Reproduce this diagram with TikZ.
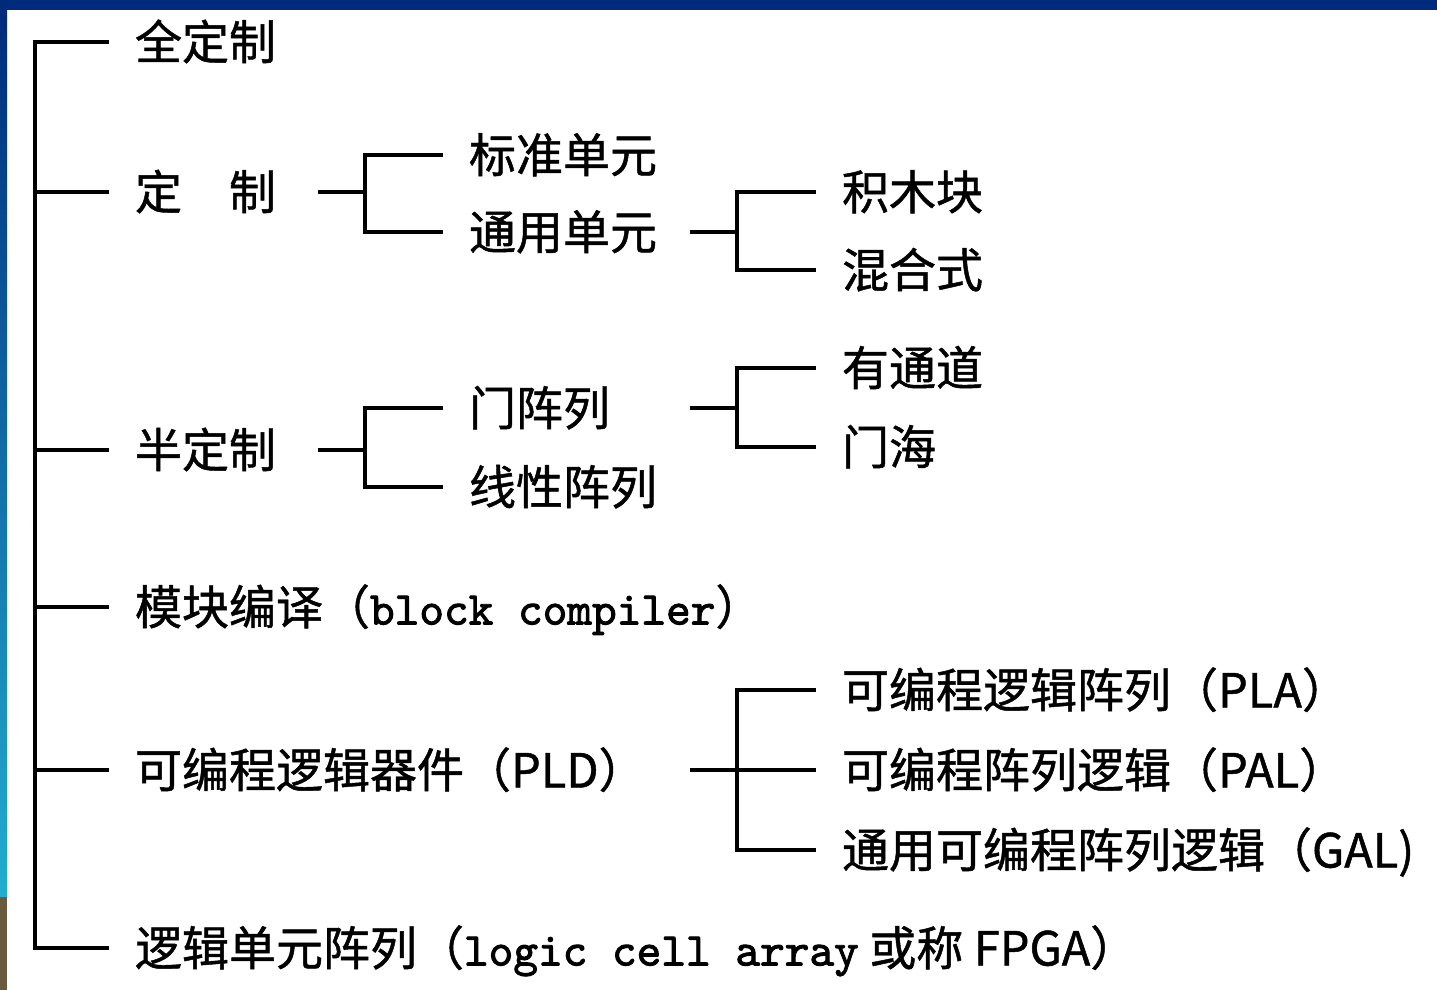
\documentclass[tikz,border=0pt]{standalone}
\usepackage{fontspec}
\setmainfont{Noto Sans CJK SC}[RawFeature={embolden=1}]
\newfontfamily\codefont{lmmono10-regular.otf}[AutoFakeBold=2]
\usetikzlibrary{calc, positioning}

\definecolor{framenavy}{HTML}{002A7C}
\definecolor{frameblue}{HTML}{1560B0}
\definecolor{frameteal}{HTML}{22AECF}
\definecolor{framebrown}{HTML}{6A5A3E}

\tikzset{
  term/.style={anchor=west, inner sep=0pt, outer xsep=26pt,
    text height=39pt, text depth=4pt,
    font=\fontsize{47}{52}\selectfont},
  bracket/.style={line width=4pt, black}
}

\begin{document}
\begin{tikzpicture}[x=1pt, y=-1pt]
\def\trunkx{35}
\def\stubB{318}
\def\forkB{365}
\def\stubC{690}
\def\forkC{737}

\useasboundingbox (0,0) rectangle (1437,990);
\fill[white] (0,0) rectangle (1437,990);

% slide frame
\fill[framenavy] (0,0) rectangle (1437,10);
\shade[top color=framenavy, middle color=frameblue, bottom color=frameteal] (0,10) rectangle (7,897);
\fill[framebrown] (0,897) rectangle (7,990);

% first level
\node[term] (full)   at (109,42)  {全定制};
\node[term] (custom) at (109,192) {定　制};
\node[term] (semi)   at (109,450) {半定制};
\node[term] (block)  at (109,607) {模块编译（{\codefont\bfseries block compiler}）};
\node[term] (pld)    at (109,770) {可编程逻辑器件（PLD）};
\node[term] (lca)    at (109,948) {逻辑单元阵列（{\codefont\bfseries logic cell array} 或称 FPGA）};

% second level
\node[term] (stdcell) at (443,155) {标准单元};
\node[term] (gencell) at (443,232) {通用单元};
\node[term] (gatearr) at (443,408) {门阵列};
\node[term] (linarr)  at (443,487) {线性阵列};

% third level
\node[term] (blocks)  at (816,192) {积木块};
\node[term] (mixed)   at (816,270) {混合式};
\node[term] (channel) at (816,368) {有通道};
\node[term] (sea)     at (816,447) {门海};
\node[term] (pla)     at (816,690) {可编程逻辑阵列（PLA）};
\node[term] (pal)     at (816,770) {可编程阵列逻辑（PAL）};
\node[term, outer xsep=0pt, xshift=26pt] (gal) at (816,850) {通用可编程阵列逻辑（GAL)};

\coordinate (trunk) at (\trunkx,0);
\coordinate (colB)  at (\stubB,0);
\coordinate (forkB) at (\forkB,0);
\coordinate (colC)  at (\stubC,0);
\coordinate (forkC) at (\forkC,0);

% trunk and its branches
\draw[bracket] (full.west) -| (trunk |- lca.west) -- (lca.west);
\foreach \n in {custom, semi, block, pld}
  \draw[bracket] (trunk |- \n.west) -- (\n.west);

% second level forks
\draw[bracket] (custom.east -| colB) -- (forkB |- custom.east);
\draw[bracket] (stdcell.west) -| (forkB |- gencell.west) -- (gencell.west);
\draw[bracket] (semi.east -| colB) -- (forkB |- semi.east);
\draw[bracket] (gatearr.west) -| (forkB |- linarr.west) -- (linarr.west);

% third level forks
\draw[bracket] (gencell.east -| colC) -- (forkC |- gencell.east);
\draw[bracket] (blocks.west) -| (forkC |- mixed.west) -- (mixed.west);
\draw[bracket] (gatearr.east -| colC) -- (forkC |- gatearr.east);
\draw[bracket] (channel.west) -| (forkC |- sea.west) -- (sea.west);
\draw[bracket] (pld.east -| colC) -- (pal.west);
\draw[bracket] (pla.west) -| (forkC |- gal.west) -- ([xshift=-26pt]gal.west);
\end{tikzpicture}
\end{document}
